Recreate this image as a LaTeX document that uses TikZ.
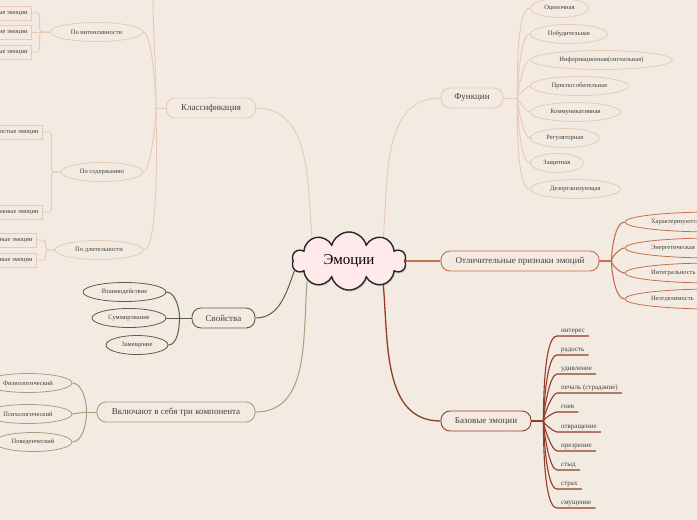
\documentclass[tikz,border=0pt]{standalone}
\usepackage{fontspec}
\setmainfont{Liberation Serif}
\usetikzlibrary{shapes.geometric,shapes.symbols,shadows,positioning}
\definecolor{PaperBg}{RGB}{243,235,226}
\definecolor{Peach}{RGB}{230,202,181}
\definecolor{Terracotta}{RGB}{196,112,78}
\definecolor{RustRed}{RGB}{148,58,40}
\definecolor{OliveDark}{RGB}{86,96,68}
\definecolor{Khaki}{RGB}{166,158,128}
\definecolor{CloudPink}{RGB}{255,233,235}
\definecolor{InkGray}{RGB}{70,64,60}
\tikzset{
  pbox/.style={draw=Peach,fill=PaperBg,rounded corners=9pt,
               minimum height=20pt,inner xsep=4pt,inner ysep=2pt,
               font=\fontsize{9}{10}\selectfont,text=InkGray,line width=0.9pt},
  tbox/.style={pbox,draw=Terracotta},
  rbox/.style={pbox,draw=RustRed},
  gbox/.style={pbox,draw=OliveDark},
  kbox/.style={pbox,draw=Khaki},
  povl/.style={ellipse,draw=Peach,fill=PaperBg,minimum height=19pt,inner sep=1pt,
               font=\fontsize{6.5}{7}\selectfont,text=InkGray,line width=0.8pt},
  tovl/.style={povl,draw=Terracotta,text width=126pt,align=left,
               inner xsep=0pt,inner ysep=3pt,minimum height=20pt},
  govl/.style={povl,draw=OliveDark},
  kovl/.style={povl,draw=Khaki},
  ptag/.style={rectangle,draw=Peach,fill=PaperBg,minimum height=14pt,
               inner xsep=4pt,inner ysep=1pt,anchor=east,
               font=\fontsize{6.5}{7}\selectfont,text=InkGray,line width=0.8pt},
  word/.style={inner xsep=4pt,inner ysep=2pt,text height=5pt,text depth=1.5pt,
               anchor=south west,font=\fontsize{7}{8}\selectfont,text=InkGray},
  lnp/.style={Peach,line width=0.9pt},
  lnt/.style={Terracotta,line width=1.1pt},
  lnr/.style={RustRed,line width=1.1pt},
  lng/.style={OliveDark,line width=1pt},
  lnk/.style={Khaki,line width=1pt},
}
\begin{document}
\begin{tikzpicture}[x=1pt,y=1pt]
\useasboundingbox (0,0) rectangle (697,-520);
\clip (0,0) rectangle (697,-520);
\fill[PaperBg] (0,0) rectangle (697,-520);

% centre
\node[cloud,cloud puffs=10,aspect=2,draw=black!85,fill=CloudPink,line width=1.4pt,
      minimum width=114pt,minimum height=55pt,
      drop shadow={opacity=0.3,shadow xshift=1pt,shadow yshift=-1.5pt},
      font=\fontsize{15}{16}\selectfont] (emo) at (349,-261) {Эмоции};

% classification
\node[pbox,minimum width=89pt] (klass) at (211,-108) {Классификация};
\node[povl,minimum width=93pt] (intens) at (96.5,-32) {По интенсивности};
\node[povl,minimum width=82pt] (soder) at (102,-172) {По содержанию};
\node[povl,minimum width=88pt] (dlit) at (99,-250) {По длительности};
\node[ptag] (int1) at (32,-13) {Сильные эмоции};
\node[ptag] (int2) at (32,-32) {Средние эмоции};
\node[ptag] (int3) at (32,-52) {Слабые эмоции};
\node[ptag] (sod1) at (43,-132) {Простые эмоции};
\node[ptag] (sod2) at (43,-212) {Сложные эмоции};
\node[ptag] (dl1) at (37,-240) {Кратковременные эмоции};
\node[ptag] (dl2) at (37,-260) {Долговременные эмоции};
\coordinate (klj) at ([xshift=-10pt]klass.west);
\coordinate (kltop) at (153,8);

% properties
\node[gbox,minimum width=63pt] (svoj) at (223.5,-318) {Свойства};
\node[govl,minimum width=83pt] (vzaim) at (124.5,-292) {Взаимодействие};
\node[govl,minimum width=74pt] (summ) at (129,-318) {Суммирование};
\node[govl,minimum width=62pt] (zamesh) at (137,-345) {Замещение};
\coordinate (svj) at ([xshift=-12pt]svoj.west);

% components
\node[kbox,minimum width=158pt] (komp) at (176,-412) {Включают в себя три компонента};
\node[kovl,minimum width=88pt] (fiz) at (28,-383) {Физиологический};
\node[kovl,minimum width=88pt] (psih) at (28,-414) {Психологический};
\node[kovl,minimum width=78pt] (poved) at (33,-442) {Поведенческий};
\coordinate (kmj) at ([xshift=-10pt]komp.west);

% functions
\node[pbox,minimum width=62pt] (func) at (472,-98) {Функции};
\node[povl,anchor=west,minimum width=58pt] (f1) at (530,-8) {Оценочная};
\node[povl,anchor=west,minimum width=77pt] (f2) at (530,-34) {Побудительная};
\node[povl,anchor=west,minimum width=142pt] (f3) at (530,-60) {Информационная(сигнальная)};
\node[povl,anchor=west,minimum width=98pt] (f4) at (530,-86) {Приспособительная};
\node[povl,anchor=west,minimum width=90pt] (f5) at (530,-112) {Коммуникативная};
\node[povl,anchor=west,minimum width=69pt] (f6) at (530,-138) {Регуляторная};
\node[povl,anchor=west,minimum width=53pt] (f7) at (530,-163) {Защитная};
\node[povl,anchor=west,minimum width=90pt] (f8) at (530,-189) {Дезорганизующая};
\coordinate (fj) at ([xshift=14pt]func.east);

% features
\node[tbox,minimum width=158pt] (feat) at (520,-261) {Отличительные признаки эмоций};
\node[tovl] (ch1) at (714,-222) {Характеризуются};
\node[tovl] (ch2) at (714,-248) {Энергетическая};
\node[tovl] (ch3) at (714,-273) {Интегральность};
\node[tovl] (ch4) at (714,-299) {Неотделимость};
\coordinate (fej) at ([xshift=12pt]feat.east);

% basic emotions
\node[rbox,minimum width=90pt] (base) at (486,-421) {Базовые эмоции};
\node[word] (b1) at (557,-336) {интерес};
\node[word] (b2) at (557,-355) {радость};
\node[word] (b3) at (557,-374) {удивление};
\node[word] (b4) at (557,-393) {печаль (страдание)};
\node[word] (b5) at (557,-412) {гнев};
\node[word] (b6) at (557,-432) {отвращение};
\node[word] (b7) at (557,-451) {презрение};
\node[word] (b8) at (557,-470) {стыд};
\node[word] (b9) at (557,-489) {страх};
\node[word] (b10) at (557,-508) {смущение};
\coordinate (bj) at ([xshift=12pt]base.east);

% main branches
\draw[lnp] (emo.148) to[out=95,in=0] (klass.east);
\draw[lnp] (emo.35) to[out=85,in=180] (func.west);
\draw[lnt,line width=1.6pt] (emo.east) -- (feat.west);
\draw[lnr,line width=1.3pt] (emo.-35) to[out=-85,in=180] (base.west);
\draw[lng] (emo.190) to[out=-110,in=0] (svoj.east);
\draw[lnk] (emo.205) to[out=-95,in=0] (komp.east);

% classification links
\draw[lnp] (klass.west) -- (klj);
\draw[lnp,looseness=0.3] (klj) to[out=90,in=0] (intens.east);
\draw[lnp,looseness=0.3] (klj) to[out=-90,in=0] (soder.east);
\draw[lnp,looseness=0.3] (klj) to[out=-90,in=0] (dlit.east);
\draw[lnp] (klj) to[out=90,in=-90] (kltop);
\draw[lnp,rounded corners=3pt] (intens.west) -- ++(-10,0) |- (int1.east);
\draw[lnp] (intens.west) -- (int2.east);
\draw[lnp,rounded corners=3pt] (intens.west) -- ++(-10,0) |- (int3.east);
\draw[lnp,rounded corners=3pt] (soder.west) -- ++(-9,0) |- (sod1.east);
\draw[lnp,rounded corners=3pt] (soder.west) -- ++(-9,0) |- (sod2.east);
\draw[lnp,rounded corners=3pt] (dlit.west) -- ++(-9,0) |- (dl1.east);
\draw[lnp,rounded corners=3pt] (dlit.west) -- ++(-9,0) |- (dl2.east);

% properties links
\draw[lng] (svoj.west) -- (svj);
\draw[lng,looseness=0.8] (svj) to[out=90,in=0] (vzaim.east);
\draw[lng] (svj) -- (summ.east);
\draw[lng,looseness=0.8] (svj) to[out=-90,in=0] (zamesh.east);

% components links
\draw[lnk] (komp.west) -- (kmj);
\draw[lnk,looseness=0.8] (kmj) to[out=90,in=0] (fiz.east);
\draw[lnk] (kmj) -- (psih.east);
\draw[lnk,looseness=0.8] (kmj) to[out=-90,in=0] (poved.east);

% function links
\draw[lnp] (func.east) -- (fj);
\draw[lnp,looseness=0.4] (fj) to[out=90,in=180] (f1.west);
\draw[lnp,looseness=0.4] (fj) to[out=90,in=180] (f2.west);
\draw[lnp,looseness=0.4] (fj) to[out=90,in=180] (f3.west);
\draw[lnp,looseness=0.4] (fj) to[out=90,in=180] (f4.west);
\draw[lnp,looseness=0.4] (fj) to[out=-90,in=180] (f5.west);
\draw[lnp,looseness=0.4] (fj) to[out=-90,in=180] (f6.west);
\draw[lnp,looseness=0.4] (fj) to[out=-90,in=180] (f7.west);
\draw[lnp,looseness=0.4] (fj) to[out=-90,in=180] (f8.west);

% feature links
\draw[lnt] (feat.east) -- (fej);
\draw[lnt,looseness=0.6] (fej) to[out=90,in=180] (ch1.west);
\draw[lnt,looseness=0.6] (fej) to[out=90,in=180] (ch2.west);
\draw[lnt,looseness=0.6] (fej) to[out=-90,in=180] (ch3.west);
\draw[lnt,looseness=0.6] (fej) to[out=-90,in=180] (ch4.west);

% basic emotion links
\draw[lnr] (base.east) -- (bj);
\draw[lnr,looseness=0.4] (bj) to[out=90,in=180] (b1.south west) -- (b1.south east);
\draw[lnr,looseness=0.4] (bj) to[out=90,in=180] (b2.south west) -- (b2.south east);
\draw[lnr,looseness=0.4] (bj) to[out=90,in=180] (b3.south west) -- (b3.south east);
\draw[lnr,looseness=0.4] (bj) to[out=90,in=180] (b4.south west) -- (b4.south east);
\draw[lnr,looseness=0.4] (bj) to[out=90,in=180] (b5.south west) -- (b5.south east);
\draw[lnr,looseness=0.4] (bj) to[out=-90,in=180] (b6.south west) -- (b6.south east);
\draw[lnr,looseness=0.4] (bj) to[out=-90,in=180] (b7.south west) -- (b7.south east);
\draw[lnr,looseness=0.4] (bj) to[out=-90,in=180] (b8.south west) -- (b8.south east);
\draw[lnr,looseness=0.4] (bj) to[out=-90,in=180] (b9.south west) -- (b9.south east);
\draw[lnr,looseness=0.4] (bj) to[out=-90,in=180] (b10.south west) -- (b10.south east);
\end{tikzpicture}
\end{document}
